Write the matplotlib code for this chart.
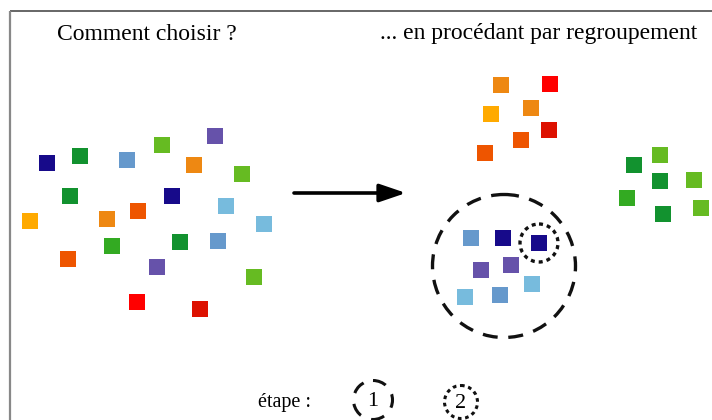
import matplotlib
matplotlib.use("Agg")
import matplotlib.pyplot as plt
from matplotlib.patches import Circle, FancyArrowPatch

# --- data -------------------------------------------------------------
palette = {
    "navy": "#170a8a",
    "dgreen": "#12922f",
    "mblue": "#6699cc",
    "ygreen": "#66bb22",
    "purple": "#6652aa",
    "orange": "#ee8812",
    "lblue": "#77bbdd",
    "ored": "#ee5500",
    "amber": "#ffaa00",
    "mgreen": "#33aa22",
    "red": "#ff0000",
    "dred": "#dd1100",
}

left_x = [47, 80, 127, 162, 215, 194, 242, 70, 172, 226, 138, 107, 30, 264, 112, 180, 218, 68, 157, 254, 137, 200]
left_y = [163, 156, 160, 145, 136, 165, 174, 196, 196, 206, 211, 219, 221, 224, 246, 242, 241, 259, 267, 277, 302, 309]
left_c = ["navy", "dgreen", "mblue", "ygreen", "purple", "orange", "ygreen", "dgreen", "navy", "lblue", "ored",
          "orange", "amber", "lblue", "mgreen", "dgreen", "mblue", "ored", "purple", "ygreen", "red", "dred"]

right_x = [501, 550, 491, 531, 549, 521, 485, 634, 660, 660, 694, 627, 663, 701, 471, 503, 539, 481, 511, 532, 465, 500]
right_y = [85, 84, 114, 108, 130, 140, 153, 165, 155, 181, 180, 198, 214, 208, 238, 238, 243, 270, 265, 284, 297, 295]
right_c = ["orange", "red", "amber", "orange", "dred", "ored", "ored", "dgreen", "ygreen", "dgreen", "ygreen",
           "mgreen", "dgreen", "ygreen", "mblue", "navy", "navy", "purple", "purple", "lblue", "lblue", "mblue"]

title_left = "Comment choisir ?"
title_right = "... en procédant par regroupement"
step_label = "étape :"
step_names = ["1", "2"]

# --- figure -----------------------------------------------------------
W, H = 712, 420
fig = plt.figure(figsize=(W / 100, H / 100), dpi=100)
ax = fig.add_axes([0, 0, 1, 1])
ax.set_xlim(0, W)
ax.set_ylim(H, 0)
ax.axis("off")

serif = ["Liberation Serif", "DejaVu Serif"]

# frame lines
ax.plot([10, W], [10.5, 10.5], color="#666666", lw=1.4, solid_capstyle="butt")
ax.plot([10, 10], [10.5, H], color="#888888", lw=1.6, solid_capstyle="butt")

side = 16.5 * 72 / 100  # ~16.5 px in points
ax.scatter(left_x, left_y, s=side ** 2, marker="s", c=[palette[c] for c in left_c],
           edgecolors="none", zorder=3)
ax.scatter(right_x, right_y, s=side ** 2, marker="s", c=[palette[c] for c in right_c],
           edgecolors="none", zorder=3)

# titles
ax.text(147, 34, title_left, fontsize=17, family=serif, ha="center", va="center")
ax.text(539, 34, title_right, fontsize=17, family=serif, ha="center", va="center")

# arrow
arr = FancyArrowPatch((294, 193), (406, 193), arrowstyle="-|>,head_length=1.0,head_width=0.34",
                      mutation_scale=16, lw=2.6, color="black", shrinkA=0, shrinkB=0)
ax.add_patch(arr)

# clustering circles
ax.add_patch(Circle((504, 266), 71.5, fill=False, lw=2.4, ls=(0, (4.5, 3.2)), color="#111111", zorder=4))
ax.add_patch(Circle((539, 243), 19, fill=False, lw=2.4, ls=(0, (1.2, 1.2)), color="#111111", zorder=4))

# legend
ax.text(285, 403, step_label, fontsize=14.5, family=serif, ha="center", va="center")
ax.add_patch(Circle((373, 400), 19.5, fill=False, lw=2.2, ls=(0, (4.5, 3.6)), color="#111111"))
ax.text(373, 401, step_names[0], fontsize=16, family=serif, ha="center", va="center")
ax.add_patch(Circle((461, 402), 16.5, fill=False, lw=2.2, ls=(0, (1.2, 1.2)), color="#111111"))
ax.text(461, 403, step_names[1], fontsize=16, family=serif, ha="center", va="center")

fig.savefig("out.png", dpi=100)
